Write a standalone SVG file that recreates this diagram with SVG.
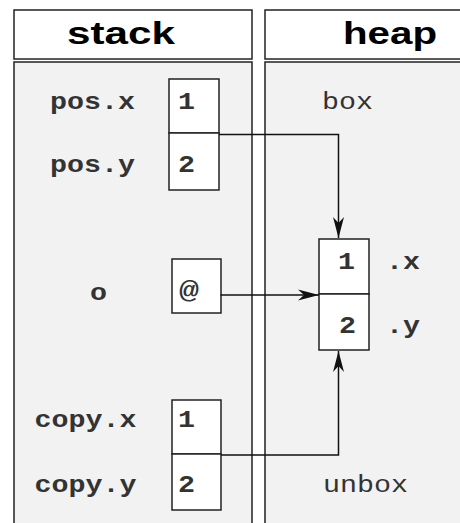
<svg xmlns="http://www.w3.org/2000/svg" width="460" height="523" viewBox="0 0 460 523">
<style>
.hdr{fill:#fff;stroke:#222;stroke-width:1.5}
.body{fill:#f2f2f2;stroke:#222;stroke-width:1.5}
.cell{fill:#fff;stroke:#222;stroke-width:1.5}
.ht{font-family:"Liberation Sans",Arial,sans-serif;font-weight:bold;font-size:32px;fill:#000}
.m{font-family:"Liberation Mono","Courier New",monospace;font-weight:bold;font-size:24px;fill:#333}
.mn{font-family:"Liberation Mono","Courier New",monospace;font-size:24px;fill:#333}
.c{fill:none;stroke:#111;stroke-width:1.5}
</style>
<defs>
<marker id="ah" markerUnits="userSpaceOnUse" markerWidth="24" markerHeight="14" viewBox="-22 -7 24 14" refX="0" refY="0" orient="auto">
<path d="M0,0 L-21,-5.5 L-15,0 L-21,5.5 Z" fill="#111"/>
</marker>
</defs>
<g id="stack-header"><rect class="hdr" x="14" y="10" width="238" height="49"/><text class="ht" x="67" y="43.5" textLength="108" lengthAdjust="spacingAndGlyphs">stack</text></g>
<g id="heap-header"><rect class="hdr" x="265" y="10" width="210" height="49"/><text class="ht" x="343" y="43.5" textLength="94" lengthAdjust="spacingAndGlyphs">heap</text></g>
<g id="stack-body"><rect class="body" x="14" y="62" width="238" height="470"/></g>
<g id="heap-body"><rect class="body" x="265" y="62" width="210" height="470"/></g>
<g id="pos">
<rect class="cell" x="169" y="79" width="50" height="54"/>
<rect class="cell" x="169" y="133" width="50" height="57"/>
<text class="m" x="50" y="108.5" textLength="85" lengthAdjust="spacingAndGlyphs">pos.x</text>
<text class="m" x="50" y="172" textLength="85" lengthAdjust="spacingAndGlyphs">pos.y</text>
<text class="m" x="178" y="108.5" textLength="17" lengthAdjust="spacingAndGlyphs">1</text>
<text class="m" x="178" y="172" textLength="17" lengthAdjust="spacingAndGlyphs">2</text>
</g>
<g id="o">
<rect class="cell" x="172" y="259" width="49" height="54"/>
<text class="m" x="90" y="300" textLength="17" lengthAdjust="spacingAndGlyphs">o</text>
<text class="m" x="179" y="298" textLength="20" lengthAdjust="spacingAndGlyphs">@</text>
</g>
<g id="copy">
<rect class="cell" x="172" y="400" width="49" height="54"/>
<rect class="cell" x="172" y="454" width="49" height="56"/>
<text class="m" x="34.5" y="427" textLength="102" lengthAdjust="spacingAndGlyphs">copy.x</text>
<text class="m" x="34.5" y="491.5" textLength="102" lengthAdjust="spacingAndGlyphs">copy.y</text>
<text class="m" x="178" y="427" textLength="17" lengthAdjust="spacingAndGlyphs">1</text>
<text class="m" x="178" y="491.5" textLength="17" lengthAdjust="spacingAndGlyphs">2</text>
</g>
<g id="box-object">
<rect class="cell" x="319" y="239" width="50" height="55"/>
<rect class="cell" x="319" y="294" width="50" height="56"/>
<text class="m" x="338" y="268.5" textLength="17" lengthAdjust="spacingAndGlyphs">1</text>
<text class="m" x="339" y="332.5" textLength="17" lengthAdjust="spacingAndGlyphs">2</text>
<text class="m" x="386" y="268.5" textLength="34" lengthAdjust="spacingAndGlyphs">.x</text>
<text class="m" x="386" y="332.5" textLength="34" lengthAdjust="spacingAndGlyphs">.y</text>
</g>
<g id="box-label"><text class="mn" x="322" y="108.5" textLength="51" lengthAdjust="spacingAndGlyphs">box</text></g>
<g id="unbox-label"><text class="mn" x="323" y="491.5" textLength="85" lengthAdjust="spacingAndGlyphs">unbox</text></g>
<g id="connectors">
<path class="c" d="M219,134.5 H338.5 V238" marker-end="url(#ah)"/>
<path class="c" d="M220.5,295 H319" marker-end="url(#ah)"/>
<path class="c" d="M221,455 H338.5 V351" marker-end="url(#ah)"/>
</g>
</svg>
